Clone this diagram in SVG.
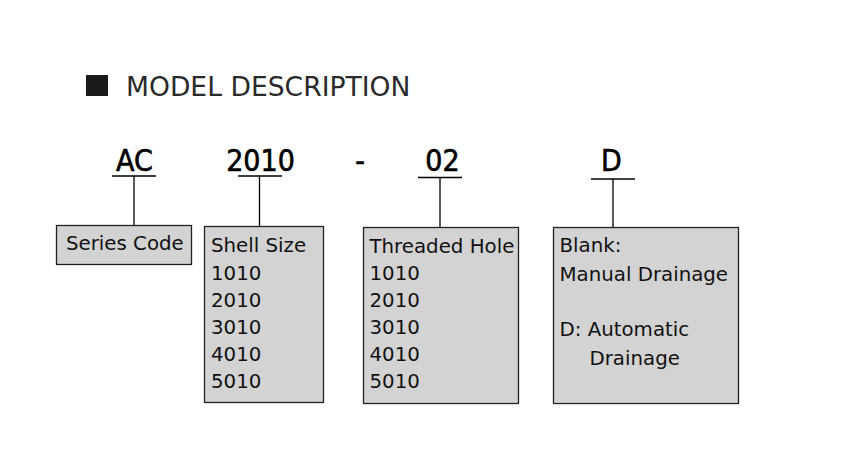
<svg xmlns="http://www.w3.org/2000/svg" width="853" height="473" viewBox="0 0 853 473">
<style>
.code{font-family:"DejaVu Sans Condensed","DejaVu Sans",sans-serif;font-size:30px;fill:#000;stroke:#000;stroke-width:0.6;text-anchor:middle}
.t{font-family:"DejaVu Sans",Verdana,sans-serif;font-size:19.8px;fill:#111}
.box{fill:#d3d3d3;stroke:#222;stroke-width:1.3}
.ln{stroke:#000;stroke-width:1.3;fill:none}
</style>
<rect width="853" height="473" fill="#fff"/>
<g id="title">
<rect x="86" y="75" width="22" height="21" fill="#1a1a1a"/>
<text x="126" y="96" font-family="DejaVu Sans, Verdana, sans-serif" font-size="26.6" fill="#2a2a2a">MODEL DESCRIPTION</text>
</g>
<g id="codes">
<text class="code" x="134.5" y="171">AC</text>
<text class="code" x="260.5" y="171">2010</text>
<text class="code" x="360" y="171">-</text>
<text class="code" x="442.5" y="171">02</text>
<text class="code" x="611.5" y="171">D</text>
</g>
<g id="connectors">
<line class="ln" x1="112" y1="176" x2="156" y2="176"/>
<line class="ln" x1="134" y1="176" x2="134" y2="225"/>
<line class="ln" x1="238" y1="176" x2="282" y2="176"/>
<line class="ln" x1="259.5" y1="176" x2="259.5" y2="226"/>
<line class="ln" x1="418" y1="177.5" x2="462" y2="177.5"/>
<line class="ln" x1="440" y1="177.5" x2="440" y2="227"/>
<line class="ln" x1="591" y1="179" x2="635" y2="179"/>
<line class="ln" x1="613" y1="179" x2="613" y2="227"/>
</g>
<g id="series">
<rect class="box" x="56.5" y="225.5" width="135" height="39"/>
<text class="t" x="66" y="250">Series Code</text>
</g>
<g id="shell">
<rect class="box" x="204.5" y="226.5" width="119" height="176"/>
<text class="t" x="211" y="252">Shell Size</text>
<text class="t" x="211" y="280">1010</text>
<text class="t" x="211" y="307">2010</text>
<text class="t" x="211" y="334">3010</text>
<text class="t" x="211" y="361">4010</text>
<text class="t" x="211" y="388">5010</text>
</g>
<g id="thread">
<rect class="box" x="363.5" y="227.5" width="155" height="176"/>
<text class="t" x="369.5" y="253">Threaded Hole</text>
<text class="t" x="369.5" y="280">1010</text>
<text class="t" x="369.5" y="307">2010</text>
<text class="t" x="369.5" y="334">3010</text>
<text class="t" x="369.5" y="361">4010</text>
<text class="t" x="369.5" y="388">5010</text>
</g>
<g id="drain">
<rect class="box" x="553.5" y="227.5" width="185" height="176"/>
<text class="t" x="559.5" y="252">Blank:</text>
<text class="t" x="559.5" y="281">Manual Drainage</text>
<text class="t" x="559.5" y="336">D: Automatic</text>
<text class="t" x="589.5" y="365">Drainage</text>
</g>
</svg>
